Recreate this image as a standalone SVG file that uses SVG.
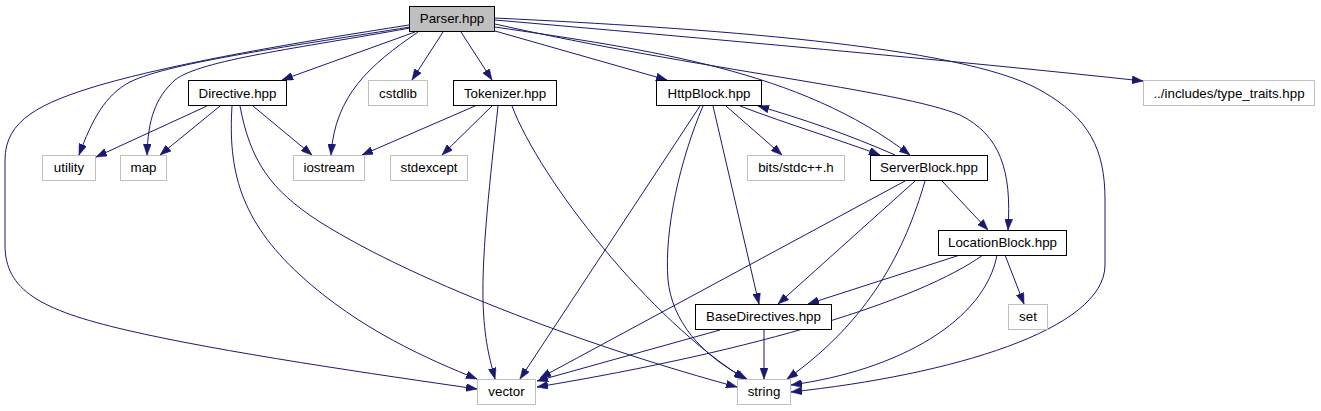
<svg xmlns="http://www.w3.org/2000/svg" width="1321" height="411" viewBox="0 0 1321 411">
<style>
.n rect{fill:#fff;stroke:#000;stroke-width:1}
.n.ext rect{stroke:#bfbfbf}
.n.cur rect{fill:#bfbfbf}
.n text{font-family:"Liberation Sans",Arial,Helvetica,sans-serif;font-size:13.33px;text-anchor:middle;fill:#000}
.e path{fill:none;stroke:#191970;stroke-width:1;marker-end:url(#a)}
</style>
<defs>
<marker id="a" markerWidth="11" markerHeight="8" refX="11" refY="4" orient="auto" markerUnits="userSpaceOnUse">
<path d="M0,0 L11,4 L0,8 z" fill="#191970" stroke="#191970" stroke-width="0.5"/>
</marker>
</defs>
<rect width="1321" height="411" fill="#fff"/>
<g id="edges" class="e">
<path d="M443,32 L412,80"/>
<path d="M461,32 L492,80"/>
<path d="M415,32 L282,80"/>
<path d="M418,32 C370,65 335,95 331,155"/>
<path d="M410,28 C300,48 200,60 175,80 C155,98 148,120 147,155"/>
<path d="M410,27 C300,45 170,62 130,82 C105,95 92,120 79,155"/>
<path d="M409,25 C300,42 180,62 100,85 C40,103 5,120 5,160 L5,245 C5,290 40,310 126,330 C220,352 380,375 477,389"/>
<path d="M495,31 L667,80"/>
<path d="M495,20 C700,38 950,60 1143,81"/>
<path d="M495,18 C700,28 960,45 1040,90 C1090,118 1105,150 1105,200 L1105,265 C1105,330 950,375 791,392"/>
<path d="M495,24 C700,70 900,90 960,115 C1000,135 1012,170 1008,230"/>
<path d="M495,27 C650,50 800,70 910,155"/>
<path d="M700,106 L520,379"/>
<path d="M703,106 C680,160 664,230 668,280 C672,320 700,355 747,379"/>
<path d="M713,106 L759,304"/>
<path d="M726,106 L782,155"/>
<path d="M740,106 C790,125 840,140 880,155"/>
<path d="M895,155 C850,135 800,118 758,106"/>
<path d="M942,181 L988,230"/>
<path d="M905,181 L540,378"/>
<path d="M915,181 L778,304"/>
<path d="M925,181 C905,250 870,320 787,379"/>
<path d="M1005,255 L1024,304"/>
<path d="M960,255 L808,304"/>
<path d="M983,255 C920,300 760,350 537,387"/>
<path d="M997,255 C985,320 900,370 791,385"/>
<path d="M720,330 L537,381"/>
<path d="M764,330 L764,379"/>
<path d="M207,106 L96,157"/>
<path d="M220,106 L160,155"/>
<path d="M232,106 C228,170 240,220 300,275 C360,330 430,360 477,379"/>
<path d="M240,106 C250,160 270,190 320,222 C420,285 600,350 737,387"/>
<path d="M253,106 L312,155"/>
<path d="M475,106 L362,155"/>
<path d="M492,106 L442,155"/>
<path d="M498,106 C490,180 482,250 483,300 C484,340 490,360 495,379"/>
<path d="M512,106 C540,180 650,320 745,379"/>
</g>
<g id="node-parser" class="n cur"><rect x="409.5" y="6.5" width="85" height="25"/><text x="452" y="23">Parser.hpp</text></g>
<g id="node-directive" class="n"><rect x="188.5" y="80.5" width="98" height="25"/><text x="237.5" y="97.5">Directive.hpp</text></g>
<g id="node-cstdlib" class="n ext"><rect x="368.5" y="80.5" width="59" height="25"/><text x="398" y="97.5">cstdlib</text></g>
<g id="node-tokenizer" class="n"><rect x="453.5" y="80.5" width="103" height="25"/><text x="505" y="97.5">Tokenizer.hpp</text></g>
<g id="node-httpblock" class="n"><rect x="656.5" y="80.5" width="105" height="25"/><text x="709" y="97.5">HttpBlock.hpp</text></g>
<g id="node-typetraits" class="n ext"><rect x="1143.5" y="80.5" width="171" height="25"/><text x="1229" y="97.5">../includes/type_traits.hpp</text></g>
<g id="node-utility" class="n ext"><rect x="42.5" y="155.5" width="53" height="25"/><text x="69" y="172">utility</text></g>
<g id="node-map" class="n ext"><rect x="120.5" y="155.5" width="46" height="25"/><text x="143.5" y="172">map</text></g>
<g id="node-iostream" class="n ext"><rect x="293.5" y="155.5" width="71" height="25"/><text x="329" y="172">iostream</text></g>
<g id="node-stdexcept" class="n ext"><rect x="390.5" y="155.5" width="77" height="25"/><text x="429" y="172">stdexcept</text></g>
<g id="node-bits" class="n ext"><rect x="747.5" y="155.5" width="97" height="25"/><text x="796" y="172">bits/stdc++.h</text></g>
<g id="node-serverblock" class="n"><rect x="870.5" y="155.5" width="117" height="25"/><text x="929" y="172">ServerBlock.hpp</text></g>
<g id="node-locationblock" class="n"><rect x="938.5" y="230.5" width="128" height="25"/><text x="1002.5" y="247">LocationBlock.hpp</text></g>
<g id="node-basedirectives" class="n"><rect x="695.5" y="304.5" width="136" height="25"/><text x="763.5" y="321">BaseDirectives.hpp</text></g>
<g id="node-set" class="n ext"><rect x="1008.5" y="304.5" width="39" height="25"/><text x="1028" y="321">set</text></g>
<g id="node-vector" class="n ext"><rect x="477.5" y="379.5" width="58" height="25"/><text x="506.5" y="396">vector</text></g>
<g id="node-string" class="n ext"><rect x="737.5" y="379.5" width="53" height="25"/><text x="764" y="396">string</text></g>
</svg>
